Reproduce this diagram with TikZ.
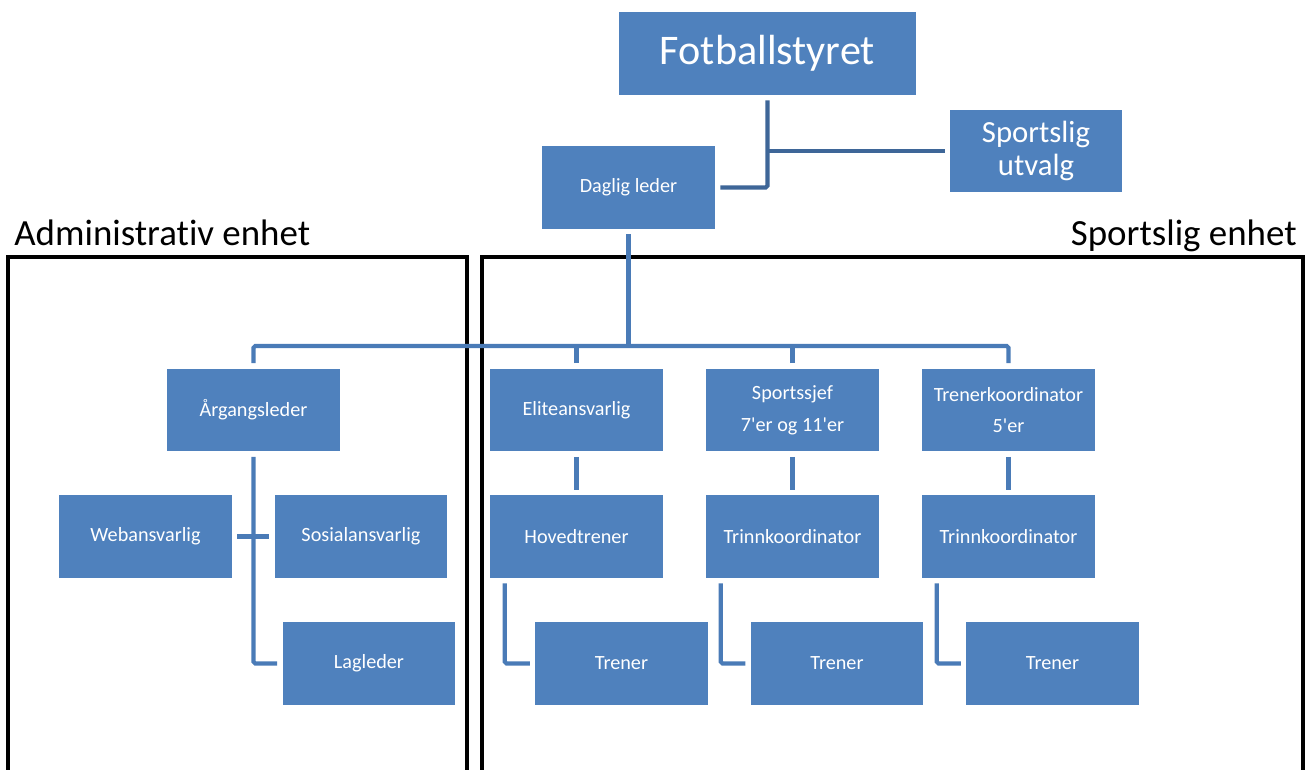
\documentclass[tikz,border=0pt]{standalone}
\usepackage{fontspec}
\setmainfont{Carlito}[RawFeature={-liga;-clig;-calt}]
\usetikzlibrary{calc}
\definecolor{unitblue}{HTML}{4F81BD}
\definecolor{linkblue}{HTML}{4A7BB7}
\definecolor{topblue}{HTML}{3E6698}
\tikzset{%
  orgbox/.style   = {shape=rectangle, fill=unitblue, text=white,%
                     minimum width=3.46cm, minimum height=1.66cm,%
                     inner sep=0pt, outer sep=3pt, align=center,%
                     font=\fontsize{11.5}{18}\selectfont},%
  headbox/.style  = {orgbox, minimum width=5.94cm,%
                     font=\fontsize{24}{28}\selectfont},%
  sidebox/.style  = {orgbox, minimum width=3.44cm, minimum height=1.64cm,%
                     font=\fontsize{17.5}{19}\selectfont},%
  link/.style     = {draw=linkblue, line width=2.3pt, rounded corners=1pt},%
  toplink/.style  = {link, draw=topblue},%
  frame/.style    = {draw=black, line width=1.8pt},%
  unitlabel/.style= {font=\fontsize{21}{25}\selectfont, inner sep=0pt}%
}
\begin{document}
\begin{tikzpicture}[x=0.02cm, y=-0.02cm]
  \path[use as bounding box, clip] (0,0) rectangle (1309,770);
  % the two units
  \draw[frame] (8,800) -- (8,257) -- (467,257) -- (467,800);
  \draw[frame] (482,800) -- (482,257) -- (1303,257) -- (1303,800);
  \node[unitlabel, anchor=base west] (adm) at (14,246) {Administrativ enhet};
  \node[unitlabel, anchor=base east] (spo) at (1297,246) {Sportslig enhet};
  % top of the tree
  \node[headbox] (fs) at (767.5,53.5) {Fotballstyret};
  \node[sidebox] (su) at (1036,151) {Sportslig\\utvalg};
  \node[orgbox]  (dl) at (628.5,187.5) {Daglig leder};
  % second row
  \node[orgbox] (al) at (253.5,410) {Årgangsleder};
  \node[orgbox] (el) at (576.5,410) {Eliteansvarlig};
  \node[orgbox] (sj) at (792.5,410) {Sportssjef\\7\textquotesingle er og 11\textquotesingle er};
  \node[orgbox] (tk) at (1008.5,410) {Trenerkoordinator\\5\textquotesingle er};
  % third row
  \node[orgbox] (web) at (145.5,536.5) {Webansvarlig};
  \node[orgbox] (sos) at (361,536.5) {Sosialansvarlig};
  \node[orgbox] (ht)  at (576.5,536.5) {Hovedtrener};
  \node[orgbox] (tra) at (792.5,536.5) {Trinnkoordinator};
  \node[orgbox] (trb) at (1008.5,536.5) {Trinnkoordinator};
  % fourth row
  \node[orgbox] (lag) at (369,663.5) {Lagleder};
  \node[orgbox] (tn1) at (621.5,663.5) {Trener};
  \node[orgbox] (tn2) at (837,663.5) {Trener};
  \node[orgbox] (tn3) at (1052.5,663.5) {Trener};
  % connectors
  \coordinate (bar) at (629,346);
  \draw[toplink] (fs.south) |- (dl.east);
  \draw[toplink] (fs.south |- su.west) -- (su.west);
  \draw[link] (dl.south) -- (dl.south |- bar);
  \draw[link] (al.north) -- (al.north |- bar) -| (tk.north);
  \draw[link] (el.north) -- (el.north |- bar);
  \draw[link] (sj.north) -- (sj.north |- bar);
  \draw[link] (al.south) |- (lag.west);
  \draw[link] (web.east) -- (sos.west);
  \draw[link] (el.south) -- (ht.north);
  \draw[link] (sj.south) -- (tra.north);
  \draw[link] (tk.south) -- (trb.north);
  \draw[link] ($(ht.south west)+(20,0)$) |- (tn1.west);
  \draw[link] ($(tra.south west)+(20,0)$) |- (tn2.west);
  \draw[link] ($(trb.south west)+(20,0)$) |- (tn3.west);
\end{tikzpicture}
\end{document}
